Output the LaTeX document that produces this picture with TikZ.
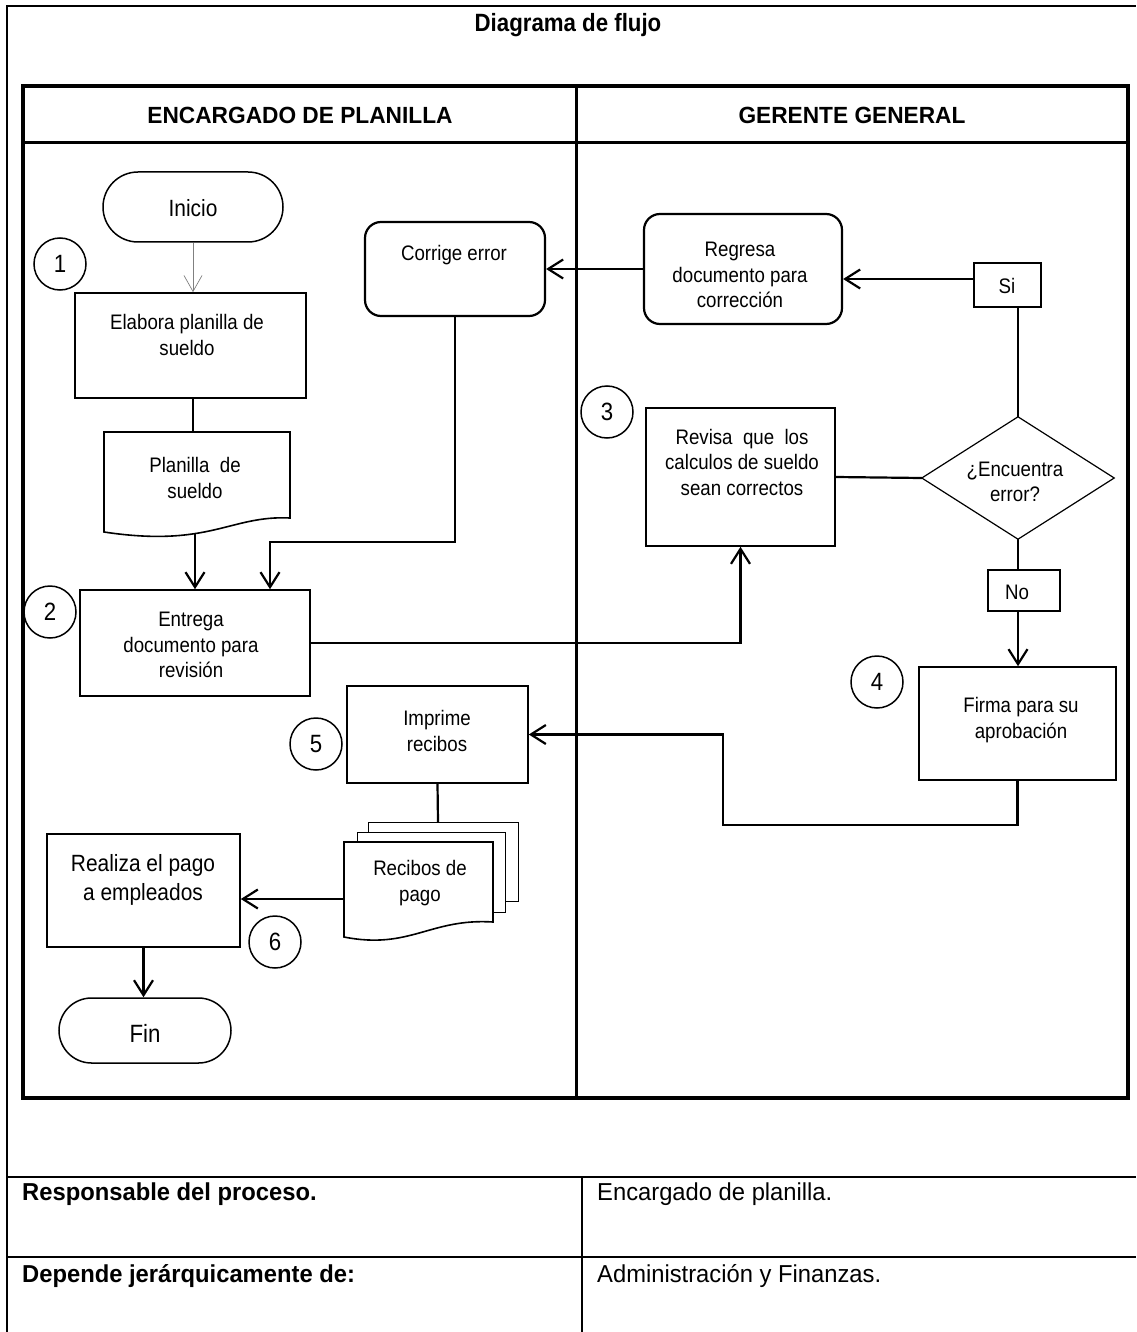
\documentclass[tikz,border=0pt]{standalone}
\usepackage{fontspec}
\setmainfont[FakeStretch=0.89]{Liberation Sans}
\newfontfamily\widefont[FakeStretch=0.97]{Liberation Sans}
\usetikzlibrary{arrows.meta,calc}

\tikzset{
  ft/.style={font=\fontsize{21}{25.5}\selectfont, align=center, inner sep=0pt},
  ftbig/.style={font=\fontsize{23.5}{29}\selectfont, align=center, inner sep=0pt},
  titletxt/.style={font=\fontsize{25}{30}\selectfont\bfseries, inner sep=0pt},
  headtxt/.style={font=\widefont\fontsize{23.4}{28}\selectfont\bfseries, inner sep=0pt},
  celltxt/.style={font=\widefont\fontsize{24.5}{29}\selectfont, inner sep=0pt, anchor=base west},
  box/.style={draw, line width=1.6pt, inner sep=0pt},
  rbox/.style={draw, line width=2.2pt, rounded corners=16pt, inner sep=0pt},
  term/.style={draw, line width=1.5pt, inner sep=0pt},
  tag/.style={draw, line width=1.2pt, inner sep=0pt},
  ghost/.style={draw=none, inner sep=0pt},
  num/.style={circle, draw, line width=1.5pt, minimum size=52pt, inner sep=0pt,
              font=\fontsize{25}{30}\selectfont},
  conn/.style={line width=2.2pt},
  arr/.style={conn, -{Straight Barb[length=15pt, width=19pt]}},
  thinarr/.style={line width=0.7pt, draw=gray, -{Straight Barb[length=16pt, width=18pt]}},
  sheet/.style={draw, line width=1pt, fill=white},
  docline/.style={draw, line width=1.6pt, fill=white},
}

\begin{document}
\begin{tikzpicture}[x=1pt,y=-1pt]
\useasboundingbox (0,0) rectangle (1136,1332);

% ---------- outer frame and title ----------
\draw[line width=2pt] (7,1332) -- (7,6) -- (1136,6);
\node[titletxt] (title) at (568,25) {Diagrama de flujo};

% ---------- swimlanes ----------
\draw[line width=3.6pt] (23,86) rectangle (1128,1098);
\draw[line width=3pt] (23,143) -- (1128,143);
\draw[line width=3pt] (576,86) -- (576,1098);
\node[headtxt] (laneA) at (300,115) {ENCARGADO DE PLANILLA};
\node[headtxt] (laneB) at (852,115) {GERENTE GENERAL};

% ---------- lower table ----------
\draw[line width=2.5pt] (7,1177) -- (1136,1177);
\draw[line width=2.5pt] (7,1257) -- (1136,1257);
\draw[line width=2.5pt] (582,1177) -- (582,1332);
\node[celltxt, font=\widefont\fontsize{24.5}{29}\selectfont\bfseries] (resp) at (22,1200) {Responsable del proceso.};
\node[celltxt] (respv) at (597,1200) {Encargado de planilla.};
\node[celltxt, font=\widefont\fontsize{24.5}{29}\selectfont\bfseries] (dep) at (22,1282) {Depende jerárquicamente de:};
\node[celltxt] (depv) at (597,1282) {Administración y Finanzas.};

% ---------- left lane ----------
\node[term, rounded corners=35pt, minimum width=180pt, minimum height=70pt] (inicio) at (193,207) {};
\node[ftbig] (tinicio) at (193,208) {Inicio};

\node[num] (n1) at (60,264) {1};

\node[box, minimum width=231pt, minimum height=105pt] (elab) at (190.5,345.5) {};
\node[ft] (telab) at (187,335) {Elabora planilla de\\sueldo};

% payroll document
\draw[docline] (104,432) -- (290,432) -- (290,518)
   .. controls (230,515) and (210,548) .. (104,532) -- cycle;
\node[ghost, minimum width=186pt, minimum height=100pt] (pdoc) at (197,482) {};
\coordinate (pdocN) at (193,432);
\coordinate (pdocS) at (195,533.5);
\node[ft] (tpdoc) at (195,478) {Planilla~ de\\sueldo};

\node[rbox, minimum width=180pt, minimum height=94pt] (corr) at (455,269) {};
\node[ft] (tcorr) at (454,255) {Corrige error};

\node[num] (n2) at (50,612) {2};
\node[box, minimum width=230pt, minimum height=106pt] (entr) at (195,643) {};
\node[ft] (tentr) at (191,645) {Entrega\\documento para\\revisión};

\node[num] (n5) at (316,744) {5};
\node[box, minimum width=181pt, minimum height=97pt] (impr) at (437.5,734.5) {};
\node[ft] (timpr) at (437,731) {Imprime\\recibos};

% stacked receipts
\draw[sheet] (368,822) rectangle (518,901);
\draw[sheet] (357,832) rectangle (505,912);
\draw[docline] (344,842) -- (493,842) -- (493,922)
   .. controls (430,918) and (410,950) .. (344,937) -- cycle;
\node[ghost, minimum width=174pt, minimum height=119pt] (recibos) at (431,882) {};
\coordinate (recN) at (438,822);
\coordinate (recW) at (344,899);
\node[ft] (trec) at (420,883) {Recibos de\\pago};

\node[box, minimum width=193pt, minimum height=113pt] (real) at (143.5,890.5) {};
\node[ftbig] (treal) at (143,880) {Realiza el pago\\a empleados};
\node[num] (n6) at (275,942) {6};

\node[term, rounded corners=32.5pt, minimum width=172pt, minimum height=65pt] (fin) at (145,1030.5) {};
\node[font=\fontsize{25}{30}\selectfont, inner sep=0pt] (tfin) at (145,1033) {Fin};

% ---------- right lane ----------
\node[rbox, minimum width=198pt, minimum height=110pt] (regr) at (743,269) {};
\node[ft] (tregr) at (740,275) {Regresa\\documento para\\corrección};

\node[tag, minimum width=67pt, minimum height=44pt] (si) at (1007.5,285) {};
\node[ft] (tsi) at (1007,286) {Si};

\node[num] (n3) at (607,412) {3};
\node[box, minimum width=189pt, minimum height=138pt] (rev) at (740.5,477) {};
\node[ft] (trev) at (742,462) {Revisa~ que~ los\\calculos de sueldo\\sean correctos};

% decision
\node[ghost, minimum width=192pt, minimum height=122pt] (dia) at (1018,478) {};
\draw[line width=1.2pt] (dia.north) -- (dia.east) -- (dia.south) -- (dia.west) -- cycle;
\node[ft] (tdia) at (1015,482) {¿Encuentra\\error?};

\node[tag, minimum width=72pt, minimum height=41pt] (no) at (1024,590.5) {};
\node[ft] (tno) at (1017,592) {No};

\node[num] (n4) at (877,682) {4};
\node[box, minimum width=197pt, minimum height=113pt] (firma) at (1017.5,723.5) {};
\node[ft] (tfirma) at (1021,720) {Firma para su\\aprobación};

% ---------- connectors ----------
\coordinate (j1) at (270,542);
\coordinate (j2) at (723,825);

\draw[thinarr] (inicio.south) -- (inicio.south |- elab.north);
\draw[conn] (elab.south -| pdocN) -- (pdocN);
\draw[arr] (pdocS) -- (pdocS |- entr.north);
\draw[arr] (corr.south) |- (j1) -- (j1 |- entr.north);
\draw[arr] (regr.west) -- (corr.east);
\draw[arr] ([yshift=6pt]si.west) -- ([yshift=6pt]si.west -| regr.east);
\draw[conn] (dia.north) -- (dia.north |- si.south);
\draw[conn] (rev.east) -- (dia.west);
\draw[conn] (dia.south) -- (dia.south |- no.north);
\draw[arr] (dia.south |- no.south) -- (dia.south |- firma.north);
\draw[arr] (entr.east) -| (rev.south);
\draw[arr] (firma.south) |- (j2) |- (impr.east);
\draw[conn] (impr.south) -- (recN);
\draw[arr] (recW) -- (recW -| real.east);
\draw[arr] (real.south) -- (real.south |- fin.north);

\end{tikzpicture}
\end{document}
